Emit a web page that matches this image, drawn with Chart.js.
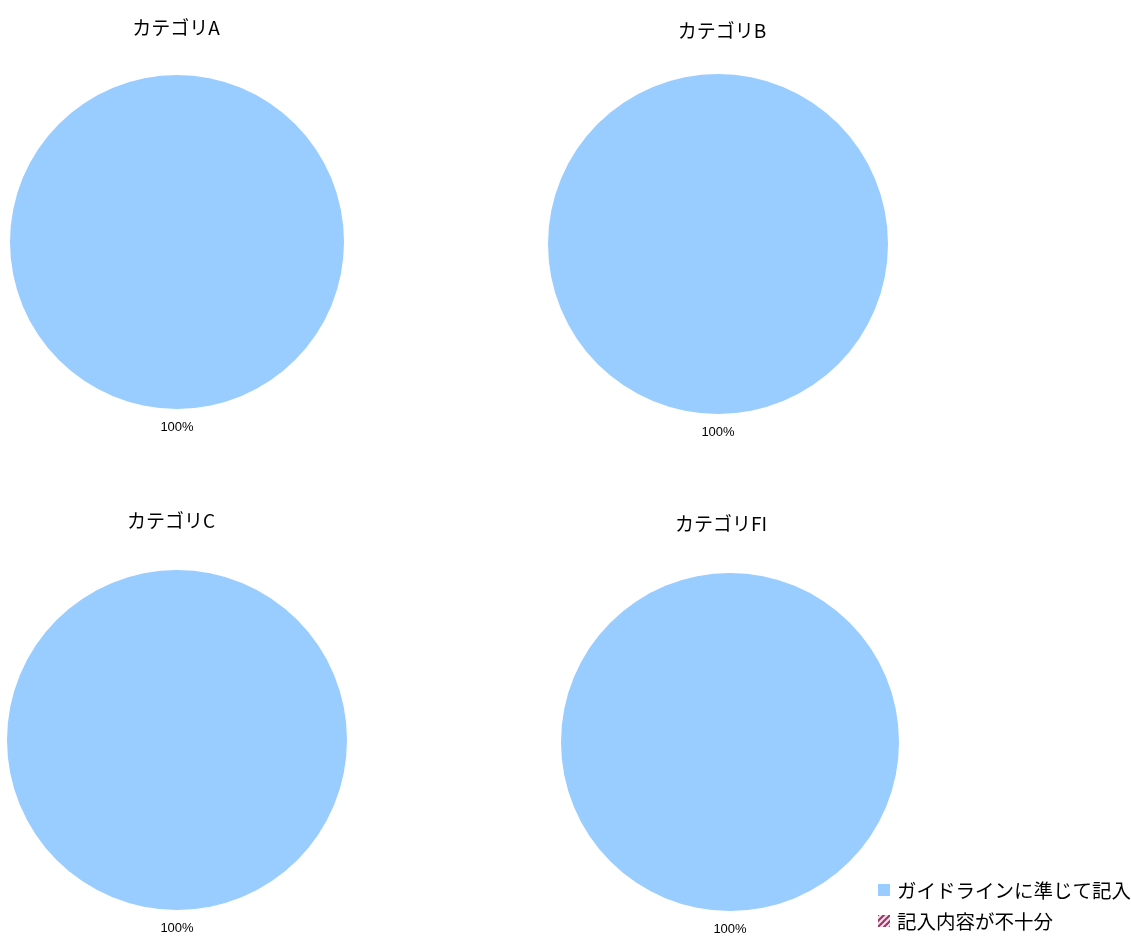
<!DOCTYPE html>
<html lang="ja">
<head>
<meta charset="utf-8">
<title>カテゴリ別 記入状況</title>
<script src="https://cdn.jsdelivr.net/npm/chart.js@4"></script>
<style>
    html, body { margin: 0; padding: 0; background: #fff; }
    body { width: 1131px; height: 937px; position: relative; overflow: hidden; }
    canvas.pie { position: absolute; }
    .pie-title {
        position: absolute; width: 240px; margin-left: -120px; text-align: center;
        height: 24px; line-height: 24px; margin-top: -12px;
        font-family: "Noto Sans CJK JP", sans-serif; font-size: 19px; color: #000;
    }
    #legend {
        position: absolute; left: 878px; top: 874px;
        font-family: "Noto Sans CJK JP", sans-serif; font-size: 19.5px; color: #000;
    }
    #legend .row { display: flex; align-items: center; height: 31px; white-space: nowrap; }
    #legend canvas { width: 12px; height: 12px; margin-right: 7px; }
</style>
</head>
<body>
<canvas id="pieA" class="pie" width="354" height="439" style="left:0px;top:0px"></canvas>
<canvas id="pieB" class="pie" width="340" height="444" style="left:548px;top:0px"></canvas>
<canvas id="pieC" class="pie" width="340" height="447" style="left:7px;top:490px"></canvas>
<canvas id="pieFI" class="pie" width="338" height="444" style="left:561px;top:493px"></canvas>
<div id="legend"></div>

<script>
// 記入状況の集計（%）
const categories = ['カテゴリA', 'カテゴリB', 'カテゴリC', 'カテゴリFI'];
const seriesLabels = ['ガイドラインに準じて記入', '記入内容が不十分'];
const compliantPct = [100, 100, 100, 100];
const insufficientPct = [0, 0, 0, 0];

const canvasIds = ['pieA', 'pieB', 'pieC', 'pieFI'];

// Title centres (page px) and the room above/below each pie inside its canvas
const titleAt = [[176, 27], [722, 30], [171, 520], [721, 523]];
const topPad = [75, 74, 80, 80];
const bottomPad = [30, 30, 27, 26];

const BLUE = '#99CCFF';
const MAROON = '#993366';

// Diagonal hatch used for the "insufficient" slice
function makeHatch(ctx, color) {
    const tile = document.createElement('canvas');
    tile.width = 6;
    tile.height = 6;
    const t = tile.getContext('2d');
    t.fillStyle = '#f4dde8';
    t.fillRect(0, 0, 6, 6);
    t.strokeStyle = color;
    t.lineWidth = 2;
    t.beginPath();
    t.moveTo(0, 6); t.lineTo(6, 0);
    t.moveTo(-3, 3); t.lineTo(3, -3);
    t.moveTo(3, 9); t.lineTo(9, 3);
    t.stroke();
    return ctx.createPattern(tile, 'repeat');
}

// Percentage label just outside each non-empty slice
const outsideLabels = {
    id: 'outsideLabels',
    afterDatasetsDraw(chart) {
        const ctx = chart.ctx;
        const meta = chart.getDatasetMeta(0);
        const data = chart.data.datasets[0].data;
        ctx.save();
        ctx.font = '13px "Liberation Sans", Arial, sans-serif';
        ctx.fillStyle = '#000';
        ctx.textAlign = 'center';
        ctx.textBaseline = 'middle';
        meta.data.forEach((arc, i) => {
            if (!data[i]) return;
            const { x, y, startAngle, endAngle, outerRadius } =
                arc.getProps(['x', 'y', 'startAngle', 'endAngle', 'outerRadius'], true);
            const mid = (startAngle + endAngle) / 2;
            const r = outerRadius + 18.5;
            ctx.fillText(data[i] + '%', x + Math.cos(mid) * r, y + Math.sin(mid) * r);
        });
        ctx.restore();
    }
};

canvasIds.forEach((id, i) => {
    const el = document.getElementById(id);

    const title = document.createElement('div');
    title.className = 'pie-title';
    title.textContent = categories[i];
    title.style.left = titleAt[i][0] + 'px';
    title.style.top = titleAt[i][1] + 'px';
    document.body.appendChild(title);

    const hatch = makeHatch(el.getContext('2d'), MAROON);
    new Chart(el, {
        type: 'pie',
        data: {
            labels: seriesLabels,
            datasets: [{
                data: [compliantPct[i], insufficientPct[i]],
                backgroundColor: [BLUE, hatch],
                borderWidth: 0
            }]
        },
        options: {
            responsive: false,
            animation: false,
            devicePixelRatio: 1,
            layout: { padding: { top: topPad[i], bottom: bottomPad[i] } },
            plugins: {
                legend: { display: false },
                tooltip: { enabled: false }
            }
        },
        plugins: [outsideLabels]
    });
});

// Shared legend, bottom right
const legendEl = document.getElementById('legend');
seriesLabels.forEach((label, i) => {
    const row = document.createElement('div');
    row.className = 'row';
    const sw = document.createElement('canvas');
    sw.width = 12;
    sw.height = 12;
    const sctx = sw.getContext('2d');
    sctx.fillStyle = i === 0 ? BLUE : makeHatch(sctx, MAROON);
    sctx.fillRect(0, 0, 12, 12);
    const span = document.createElement('span');
    span.textContent = label;
    row.appendChild(sw);
    row.appendChild(span);
    legendEl.appendChild(row);
});
</script>
</body>
</html>
